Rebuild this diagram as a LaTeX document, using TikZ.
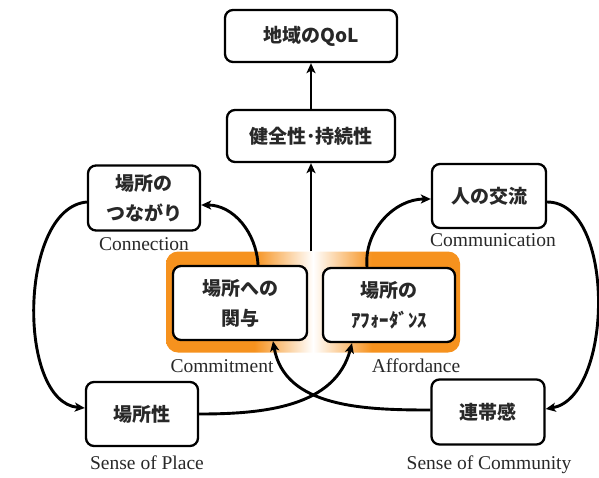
\documentclass[tikz,border=0pt]{standalone}
\usepackage{fontspec}
\setmainfont{Liberation Serif}
\newfontfamily\jp{Noto Sans CJK JP}
\usetikzlibrary{arrows.meta,calc}
\definecolor{orangeC}{RGB}{246,146,30}
\definecolor{txt}{RGB}{40,40,40}
\pgfdeclarehorizontalshading{midband}{100bp}{color(0bp)=(orangeC); color(40bp)=(orangeC); color(50bp)=(white); color(60bp)=(orangeC); color(100bp)=(orangeC)}
\tikzset{
  jbox/.style={draw=black, line width=2.3pt, rounded corners=8pt, fill=white,
    align=center, font=\jp\bfseries\fontsize{19}{30}\selectfont, text=txt, inner sep=0pt},
  elabel/.style={font=\fontsize{19.5}{22}\selectfont, text=txt, inner sep=0pt},
  conn/.style={line width=2.9pt, -{Stealth[length=10pt,width=9pt,inset=2.5pt]}},
}
\begin{document}
\begin{tikzpicture}[x=1pt,y=-1pt]
\useasboundingbox (0,0) rectangle (599,477);
% orange group
\node[shade, shading=midband, rounded corners=12pt, minimum width=294pt, minimum height=101pt, inner sep=0pt] (grp) at (313,302) {};

\node[jbox, minimum width=172pt, minimum height=52pt] (qol) at (311,36) {地域のQoL};
\node[jbox, minimum width=168pt, minimum height=52pt] (health) at (311,136) {健全性･持続性};
\node[jbox, minimum width=112pt, minimum height=65pt] (tsuna) at (144,198) {場所の\\つながり};
\node[jbox, minimum width=114pt, minimum height=64pt] (kouryu) at (489,196) {人の交流};
\node[jbox, minimum width=134pt, minimum height=74pt] (kanyo) at (240,303) {場所への\\関与};
\node[jbox, minimum width=132pt, minimum height=74pt] (afford) at (389,305) {場所の\\ｱﾌｫｰﾀﾞﾝｽ};
\node[jbox, minimum width=112pt, minimum height=64pt] (basho) at (142,414) {場所性};
\node[jbox, minimum width=113pt, minimum height=65pt] (rentai) at (488,412) {連帯感};

\node[elabel] (l1) at (144,244) {Connection};
\node[elabel] (l2) at (493,240) {Communication};
\node[elabel] (l3) at (222,366) {Commitment};
\node[elabel] (l4) at (416,366) {Affordance};
\node[elabel] (l5) at (147,463) {Sense of Place};
\node[elabel] (l6) at (489,465) {Sense of Community};

\draw[conn] (health.north) -- (qol.south);
\draw[conn] (grp.north -| health.south) -- (health.south);
\draw[conn] ($(kanyo.north)+(18,0)$) to[out=93,in=0] ($(tsuna.east)+(0,7)$);
\draw[conn] ($(tsuna.west)+(0,4)$) to[out=185,in=175,looseness=0.85] ($(basho.west)+(0,-6)$);
\draw[conn] (basho.east) to[out=0,in=-105] ($(afford.south)+(-37,0)$);
\draw[conn] ($(afford.north)+(-22,0)$) to[out=95,in=180] ($(kouryu.west)+(0,3)$);
\draw[conn] ($(kouryu.east)+(0,6)$) to[out=0,in=10,looseness=0.85] ($(rentai.east)+(0,-3)$);
\draw[conn] ($(rentai.west)+(0,-2)$) to[out=180,in=-80] ($(kanyo.south)+(33,0)$);
\end{tikzpicture}
\end{document}
